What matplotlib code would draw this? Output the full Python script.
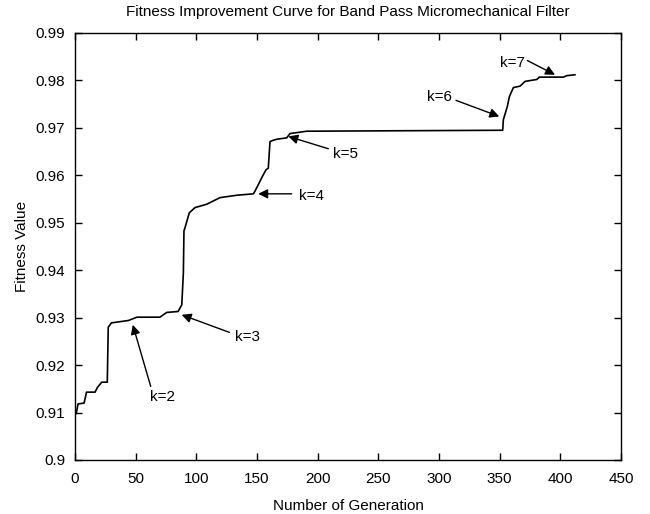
import matplotlib
matplotlib.use("Agg")
import matplotlib.pyplot as plt

plt.rcParams['font.family'] = ['Liberation Sans Narrow', 'Liberation Sans', 'DejaVu Sans']
plt.rcParams['font.size'] = 11

# curve (generation, fitness)
gen = [0, 1, 2.5, 7.5, 9.5, 16.5, 18.5, 22, 26.6, 27.4, 30, 44, 51, 70, 75.6, 85,
       88, 89.3, 89.8, 90.7, 94.2, 98.9, 108.5, 119.5, 133.3, 147, 148.4, 151,
       154.5, 157.5, 159.3, 160.7, 163.4, 166.2, 174.5, 177.2, 191, 352.5, 353,
       356.3, 358, 361.3, 366.8, 370.9, 380.5, 382.7, 402.5, 405.2, 412]
fitness = [0.9096, 0.9098, 0.9118, 0.9120, 0.9143, 0.9143, 0.9153, 0.9164, 0.9164,
           0.9280, 0.9289, 0.9294, 0.9301, 0.9301, 0.9311, 0.9313, 0.9327, 0.9394,
           0.9483, 0.9490, 0.9521, 0.9532, 0.9539, 0.9553, 0.9558, 0.9561, 0.9567,
           0.9580, 0.9598, 0.9612, 0.9615, 0.9671, 0.9674, 0.9676, 0.9679, 0.9688,
           0.9693, 0.9695, 0.9717, 0.9745, 0.9766, 0.9785, 0.9788, 0.9798, 0.9802,
           0.9807, 0.9807, 0.9810, 0.9812]

# annotations: label, arrow head (x, y), arrow tail (x, y), text anchor
labels = ["k=2", "k=3", "k=4", "k=5", "k=6", "k=7"]
heads = [(47.6, 0.9285), (87.9, 0.9306), (151, 0.9561), (175.8, 0.9682),
         (349.7, 0.9724), (395.6, 0.9812)]
tails = [(62.4, 0.9155), (127.2, 0.9269), (178.6, 0.9561), (208.8, 0.9656),
         (314, 0.9758), (372.8, 0.9842)]
text_pos = [(61.8, 0.9133), (131.9, 0.9260), (184.9, 0.9557), (212.4, 0.9645),
            (310.5, 0.9765), (350.3, 0.9836)]
text_ha = ["left", "left", "left", "left", "right", "left"]

fig = plt.figure(figsize=(6.5, 5.14), dpi=100)
ax = fig.add_axes([0.1154, 0.1051, 0.8400, 0.8307])
ax.plot(gen, fitness, color='k', lw=1.2)

for lab, h, t, p, ha in zip(labels, heads, tails, text_pos, text_ha):
    ax.annotate("", xy=h, xytext=t,
                arrowprops=dict(arrowstyle='-|>', color='k', lw=1,
                                mutation_scale=14, shrinkA=0, shrinkB=0))
    ax.text(p[0], p[1], lab, ha=ha, va='center')

ax.set_xlim(0, 450)
ax.set_ylim(0.9, 0.99)
ax.set_xticks(range(0, 451, 50))
ax.set_yticks([0.9 + 0.01 * i for i in range(10)])
ax.set_yticklabels(['0.9', '0.91', '0.92', '0.93', '0.94', '0.95', '0.96',
                    '0.97', '0.98', '0.99'])
ax.tick_params(direction='in', top=True, right=True, length=5, width=1)
ax.tick_params(axis='x', pad=9)
ax.tick_params(axis='y', pad=7)
for s in ax.spines.values():
    s.set_linewidth(1)

ax.set_title("Fitness Improvement Curve for Band Pass Micromechanical Filter",
             fontsize=11, pad=12)
ax.set_xlabel("Number of Generation", labelpad=9)
ax.set_ylabel("Fitness Value", labelpad=5)

fig.savefig("out.png", dpi=100)
